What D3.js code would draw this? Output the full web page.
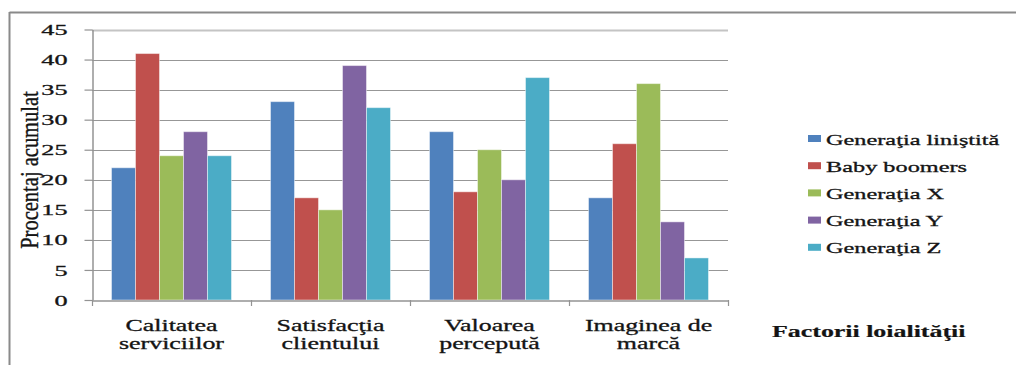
<!DOCTYPE html>
<html>
<head>
<meta charset="utf-8">
<script src="https://cdn.jsdelivr.net/npm/d3@7"></script>
<style>
  html, body { margin: 0; padding: 0; background: #fff; }
  svg { display: block; }
</style>
</head>
<body>
<svg id="chart" width="1016" height="365"></svg>
<script>
// Loyalty factors by generation (cumulative percentage)
const categories = [
  ["Calitatea", "serviciilor"],
  ["Satisfacţia", "clientului"],
  ["Valoarea", "percepută"],
  ["Imaginea de", "marcă"]
];
const series = ["Generaţia liniştită", "Baby boomers", "Generaţia X", "Generaţia Y", "Generaţia Z"];
const colors = ["#4F81BD", "#C0504D", "#9BBB59", "#8064A2", "#4BACC6"];
const genLinistita = [22, 33, 28, 17];
const babyBoomers  = [41, 17, 18, 26];
const genX         = [24, 15, 25, 36];
const genY         = [28, 39, 20, 13];
const genZ         = [24, 32, 37, 7];
const yTicks = [0, 5, 10, 15, 20, 25, 30, 35, 40, 45];
const yTitle = "Procentaj acumulat";
const xTitle = "Factorii loialităţii";

const values = [genLinistita, babyBoomers, genX, genY, genZ];
const catKeys = categories.map(c => c.join(" "));
const SERIF = "'Liberation Serif', 'Times New Roman', 'DejaVu Serif', serif";
const INK = "#141414";

const svg = d3.select("#chart");
const plot = { left: 92, right: 728, top: 29.5, bottom: 300 };
const SX = 1.62; // horizontal stretch of the serif lettering

// Outer frame
svg.append("line").attr("x1", 9.5).attr("x2", 1016).attr("y1", 12.5).attr("y2", 12.5)
  .attr("stroke", "#8a8a8a").attr("stroke-width", 2);
svg.append("line").attr("x1", 9.5).attr("x2", 9.5).attr("y1", 12).attr("y2", 365)
  .attr("stroke", "#8a8a8a").attr("stroke-width", 2);

const x0 = d3.scaleBand().domain(catKeys).range([plot.left, plot.right]);
const x1 = d3.scaleBand().domain(series).range([0, x0.bandwidth()]).paddingOuter(0.8125);
const y = d3.scaleLinear().domain([0, 45]).range([plot.bottom, plot.top]);

// Horizontal gridlines
svg.append("g").selectAll("line").data(yTicks.filter(t => t > 0)).join("line")
  .attr("x1", plot.left).attr("x2", plot.right)
  .attr("y1", d => Math.round(y(d)) + 0.5).attr("y2", d => Math.round(y(d)) + 0.5)
  .attr("stroke", d => d === 45 ? "#c4c4c4" : "#979797")
  .attr("stroke-width", d => d === 45 ? 2 : 1.2);

// Bars
const groups = svg.append("g").selectAll("g").data(catKeys).join("g")
  .attr("transform", d => `translate(${x0(d)},0)`);
groups.selectAll("rect")
  .data((d, ci) => series.map((s, si) => ({ s, si, v: values[si][ci] })))
  .join("rect")
  .attr("x", d => x1(d.s))
  .attr("width", x1.bandwidth())
  .attr("y", d => y(d.v))
  .attr("height", d => y(0) - y(d.v))
  .attr("fill", d => colors[d.si])
  .attr("stroke", "rgba(255,255,255,0.45)")
  .attr("stroke-width", 1);

// Y axis
const yAxis = svg.append("g")
  .attr("transform", `translate(${plot.left + 0.5},0)`)
  .call(d3.axisLeft(y).tickValues(yTicks).tickSize(8).tickSizeOuter(0).tickPadding(0));
yAxis.attr("font-family", SERIF);
yAxis.select(".domain").attr("stroke", "#939393").attr("stroke-width", 1.5);
yAxis.selectAll(".tick line").attr("stroke", "#939393").attr("stroke-width", 1.2);
yAxis.selectAll(".tick text")
  .attr("x", -25 / 1.75)
  .attr("dy", "0.34em")
  .attr("transform", "scale(1.75,1)")
  .attr("font-family", SERIF)
  .attr("font-size", 15)
  .attr("fill", INK)
  .attr("stroke", INK)
  .attr("stroke-width", 0.3);

// X axis baseline and category separators
const xAxis = svg.append("g")
  .attr("transform", `translate(0,${plot.bottom + 0.5})`)
  .call(d3.axisBottom(x0).tickSize(0).tickFormat(""));
xAxis.select(".domain").attr("stroke", "#939393").attr("stroke-width", 1.5);
const bounds = catKeys.map(k => x0(k)).concat([plot.right]);
svg.append("g").selectAll("line").data(bounds).join("line")
  .attr("x1", d => d + 0.5).attr("x2", d => d + 0.5)
  .attr("y1", plot.bottom).attr("y2", plot.bottom + 6)
  .attr("stroke", "#939393").attr("stroke-width", 1.2);

// Stretched serif text helper
function stretched(g, x, yy, str, size, anchor, weight) {
  return g.append("text")
    .attr("transform", `translate(${x},${yy}) scale(${SX},1)`)
    .attr("text-anchor", anchor)
    .attr("font-family", SERIF)
    .attr("font-size", size)
    .attr("font-weight", weight || "normal")
    .attr("fill", INK)
    .attr("stroke", INK)
    .attr("stroke-width", weight ? 0.2 : 0.3)
    .text(str);
}

// Category labels (two lines each)
const labels = svg.append("g");
categories.forEach((c, i) => {
  const cx = x0(catKeys[i]) + x0.bandwidth() / 2;
  stretched(labels, cx, 331, c[0], 16, "middle");
  stretched(labels, cx, 349, c[1], 16, "middle");
});

// Y axis title
svg.append("text")
  .attr("transform", "translate(38,170) scale(1.2,1) rotate(-90)")
  .attr("text-anchor", "middle")
  .attr("font-family", SERIF)
  .attr("font-size", 20.5)
  .attr("fill", INK)
  .attr("stroke", INK)
  .attr("stroke-width", 0.3)
  .text(yTitle);

// X axis title
stretched(svg, 772, 337, xTitle, 16, "start", "bold");

// Legend
const legend = svg.append("g");
series.forEach((s, i) => {
  const cy = 138.5 + i * 27.2;
  legend.append("rect")
    .attr("x", 808).attr("y", cy - 3.5).attr("width", 13).attr("height", 7)
    .attr("fill", colors[i]);
  stretched(legend, 826, cy + 6, s, 15, "start");
});
</script>
</body>
</html>
